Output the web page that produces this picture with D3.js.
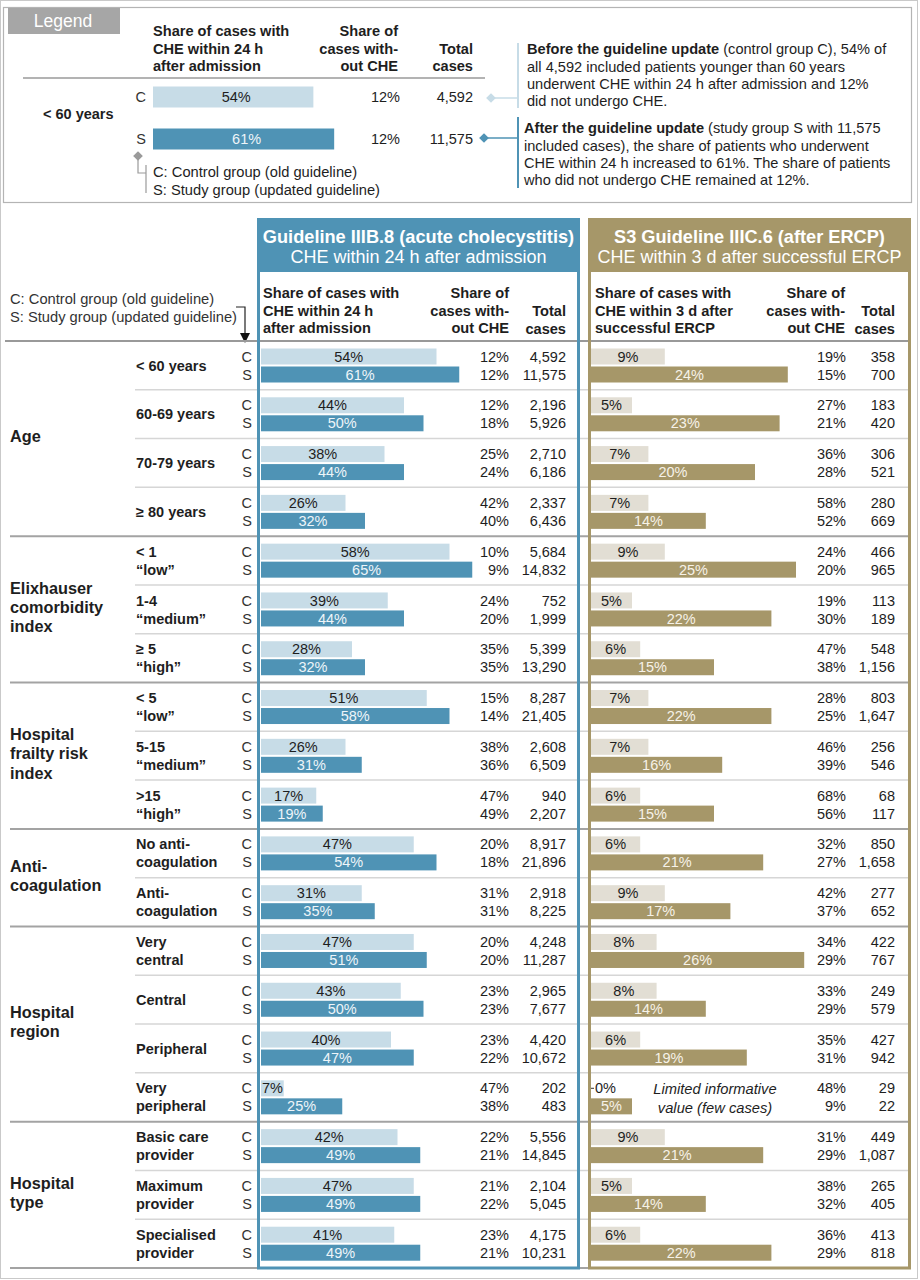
<!DOCTYPE html>
<html>
<head>
<meta charset="utf-8">
<script src="https://cdn.jsdelivr.net/npm/d3@7"></script>
<style>
  body { margin: 0; background: #fff; }
  svg { display: block; }
</style>
</head>
<body>
<script>
// ---- data ----
const groupNames = [
    ['Age'],
    ['Elixhauser', 'comorbidity', 'index'],
    ['Hospital', 'frailty risk', 'index'],
    ['Anti-', 'coagulation'],
    ['Hospital', 'region'],
    ['Hospital', 'type']
];
const groupSizes = [4, 3, 3, 2, 4, 3];
const subgroups = [
    ['< 60 years'], ['60-69 years'], ['70-79 years'], ['≥ 80 years'],
    ['< 1', '“low”'], ['1-4', '“medium”'], ['≥ 5', '“high”'],
    ['< 5', '“low”'], ['5-15', '“medium”'], ['>15', '“high”'],
    ['No anti-', 'coagulation'], ['Anti-', 'coagulation'],
    ['Very', 'central'], ['Central'], ['Peripheral'], ['Very', 'peripheral'],
    ['Basic care', 'provider'], ['Maximum', 'provider'], ['Specialised', 'provider']
];

// Guideline IIIB.8 - CHE within 24 h after admission
const che24C = [54, 44, 38, 26, 58, 39, 28, 51, 26, 17, 47, 31, 47, 43, 40, 7, 42, 47, 41];
const che24S = [61, 50, 44, 32, 65, 44, 32, 58, 31, 19, 54, 35, 51, 50, 47, 25, 49, 49, 49];
const noChe24C = [12, 12, 25, 42, 10, 24, 35, 15, 38, 47, 20, 31, 20, 23, 23, 47, 22, 21, 23];
const noChe24S = [12, 18, 24, 40, 9, 20, 35, 14, 36, 49, 18, 31, 20, 23, 22, 38, 21, 22, 21];
const total24C = [4592, 2196, 2710, 2337, 5684, 752, 5399, 8287, 2608, 940, 8917, 2918, 4248, 2965, 4420, 202, 5556, 2104, 4175];
const total24S = [11575, 5926, 6186, 6436, 14832, 1999, 13290, 21405, 6509, 2207, 21896, 8225, 11287, 7677, 10672, 483, 14845, 5045, 10231];

// S3 Guideline IIIC.6 - CHE within 3 d after successful ERCP
const che3C = [9, 5, 7, 7, 9, 5, 6, 7, 7, 6, 6, 9, 8, 8, 6, 0, 9, 5, 6];
const che3S = [24, 23, 20, 14, 25, 22, 15, 22, 16, 15, 21, 17, 26, 14, 19, 5, 21, 14, 22];
const noChe3C = [19, 27, 36, 58, 24, 19, 47, 28, 46, 68, 32, 42, 34, 33, 35, 48, 31, 38, 36];
const noChe3S = [15, 21, 28, 52, 20, 30, 38, 25, 39, 56, 27, 37, 29, 29, 31, 9, 29, 32, 29];
const total3C = [358, 183, 306, 280, 466, 113, 548, 803, 256, 68, 850, 277, 422, 249, 427, 29, 449, 265, 413];
const total3S = [700, 420, 521, 669, 965, 189, 1156, 1647, 546, 117, 1658, 652, 767, 579, 942, 22, 1087, 405, 818];

const limitedRow = 15;   // "Very peripheral" in the ERCP panel

// ---- drawing ----
const W = 920, H = 1280;
const font = "'Liberation Sans', Arial, sans-serif";
const blue = '#4f93b5', blueLight = '#c7dce7';
const gold = '#a69769', goldLight = '#e2ded4';
const ink = '#1e1e1e';
const fs = 14.5;          // body text
const fsHead = 14.6;      // column headers
const fmtN = d3.format(',');
const pct = d => d + '%';

const svg = d3.select('body').append('svg')
    .attr('width', W)
    .attr('height', H)
    .attr('font-family', font)
    .attr('fill', ink);

// outer frames
svg.append('rect').attr('x', 0.5).attr('y', 0.5).attr('width', 917).attr('height', 1278)
    .attr('fill', 'none').attr('stroke', '#c9c9c9');
svg.append('rect').attr('x', 3.5).attr('y', 7.5).attr('width', 908).attr('height', 195)
    .attr('fill', 'none').attr('stroke', '#b4b4b4').attr('stroke-width', 1.2);

function lines(g, arr, x, y0, step, opts = {}) {
    arr.forEach((t, i) => {
        g.append('text')
            .attr('x', x)
            .attr('y', y0 + i * step)
            .attr('dy', '0.35em')
            .attr('text-anchor', opts.anchor || 'start')
            .attr('font-size', opts.size || fs)
            .attr('font-weight', opts.weight || 'normal')
            .attr('font-style', opts.style || 'normal')
            .attr('fill', opts.fill || ink)
            .text(t);
    });
}

// ---- legend ----
const leg = svg.append('g');
leg.append('rect').attr('x', 8).attr('y', 8).attr('width', 112).attr('height', 26).attr('fill', '#a6a6a6');
leg.append('text').attr('x', 63).attr('y', 21).attr('dy', '0.35em').attr('text-anchor', 'middle')
    .attr('font-size', 17.5).attr('fill', '#fff').text('Legend');

lines(leg, ['Share of cases with', 'CHE within 24 h', 'after admission'], 153, 31, 17.5, { weight: 'bold', size: fsHead });
lines(leg, ['Share of', 'cases with-', 'out CHE'], 398, 31, 17.5, { weight: 'bold', size: fsHead, anchor: 'end' });
lines(leg, ['Total', 'cases'], 473, 48.5, 17.5, { weight: 'bold', size: fsHead, anchor: 'end' });
leg.append('line').attr('x1', 23).attr('x2', 485).attr('y1', 78).attr('y2', 78)
    .attr('stroke', '#9a9a9a').attr('stroke-width', 1.5);

const xLeg = d3.scaleLinear().domain([0, 100]).range([153, 450]);
const legRows = [
    { key: 'C', y: 97, v: che24C[0], n: noChe24C[0], t: total24C[0], fill: blueLight, tc: ink },
    { key: 'S', y: 139, v: che24S[0], n: noChe24S[0], t: total24S[0], fill: blue, tc: '#eef5f9' }
];
lines(leg, [subgroups[0][0]], 43, 114, 0, { weight: 'bold' });
legRows.forEach(r => {
    leg.append('text').attr('x', 146).attr('y', r.y).attr('dy', '0.35em').attr('text-anchor', 'end')
        .attr('font-size', fs).attr('fill', '#333').text(r.key);
    leg.append('rect').attr('x', xLeg(0)).attr('y', r.y - 10.5)
        .attr('width', xLeg(r.v) - xLeg(0)).attr('height', 21).attr('fill', r.fill);
    leg.append('text').attr('x', (xLeg(0) + xLeg(r.v)) / 2 + 3).attr('y', r.y).attr('dy', '0.35em')
        .attr('text-anchor', 'middle').attr('font-size', fs).attr('fill', r.tc).text(pct(r.v));
    leg.append('text').attr('x', 400).attr('y', r.y).attr('dy', '0.35em').attr('text-anchor', 'end')
        .attr('font-size', fs).text(pct(r.n));
    leg.append('text').attr('x', 473).attr('y', r.y).attr('dy', '0.35em').attr('text-anchor', 'end')
        .attr('font-size', fs).text(fmtN(r.t));
});

const diamond = d3.symbol().type(d3.symbolDiamond2).size(60);
// C / S key bracket
leg.append('path').attr('d', diamond).attr('transform', 'translate(138,156)').attr('fill', '#9a9a9a');
leg.append('path').attr('d', 'M138,156V173H146').attr('fill', 'none').attr('stroke', '#9a9a9a').attr('stroke-width', 1.2);
leg.append('line').attr('x1', 146).attr('x2', 146).attr('y1', 165).attr('y2', 193)
    .attr('stroke', '#9a9a9a').attr('stroke-width', 1.2);
lines(leg, ['C: Control group (old guideline)', 'S: Study group (updated guideline)'], 153, 172, 17.5, { size: 14.7 });

// explanations
leg.append('path').attr('d', diamond).attr('transform', 'translate(491,98)').attr('fill', blueLight);
leg.append('line').attr('x1', 491).attr('x2', 518).attr('y1', 98).attr('y2', 98).attr('stroke', blueLight).attr('stroke-width', 1.5);
leg.append('line').attr('x1', 518).attr('x2', 518).attr('y1', 43).attr('y2', 108).attr('stroke', blueLight).attr('stroke-width', 2);
leg.append('path').attr('d', diamond).attr('transform', 'translate(484,138)').attr('fill', blue);
leg.append('line').attr('x1', 484).attr('x2', 518).attr('y1', 138).attr('y2', 138).attr('stroke', blue).attr('stroke-width', 1.5);
leg.append('line').attr('x1', 518).attr('x2', 518).attr('y1', 117).attr('y2', 188).attr('stroke', blue).attr('stroke-width', 2);

function para(x, y0, rows) {
    rows.forEach((parts, i) => {
        const t = leg.append('text').attr('x', x).attr('y', y0 + i * 17.4).attr('dy', '0.35em').attr('font-size', 14.6);
        parts.forEach(p => t.append('tspan').attr('font-weight', p[1] ? 'bold' : 'normal').text(p[0]));
    });
}
para(527, 49, [
    [['Before the guideline update', 1], [' (control group C), 54% of', 0]],
    [['all 4,592 included patients younger than 60 years', 0]],
    [['underwent CHE within 24 h after admission and 12%', 0]],
    [['did not undergo CHE.', 0]]
]);
para(524, 128, [
    [['After the guideline update', 1], [' (study group S with 11,575', 0]],
    [['included cases), the share of patients who underwent', 0]],
    [['CHE within 24 h increased to 61%. The share of patients', 0]],
    [['who did not undergo CHE remained at 12%.', 0]]
]);

// ---- main table ----
const main = svg.append('g');
const rowTop = d3.scaleLinear().domain([0, subgroups.length]).range([341, 1268]);
const xL = d3.scaleLinear().domain([0, 100]).range([261, 586]);
const xR = d3.scaleLinear().domain([0, 100]).range([591, 1411]);

// panel headers
const panels = [
    { x0: 257, x1: 580, color: blue, title: 'Guideline IIIB.8 (acute cholecystitis)', sub: 'CHE within 24 h after admission',
      head: ['Share of cases with', 'CHE within 24 h', 'after admission'], hx: 263, nx: 509, tx: 566 },
    { x0: 588, x1: 911, color: gold, title: 'S3 Guideline IIIC.6 (after ERCP)', sub: 'CHE within 3 d after successful ERCP',
      head: ['Share of cases with', 'CHE within 3 d after', 'successful ERCP'], hx: 595, nx: 845, tx: 895 }
];
panels.forEach(p => {
    main.append('rect').attr('x', p.x0).attr('y', 218).attr('width', p.x1 - p.x0).attr('height', 54).attr('fill', p.color);
    const cx = (p.x0 + p.x1) / 2;
    main.append('text').attr('x', cx).attr('y', 237).attr('dy', '0.35em').attr('text-anchor', 'middle')
        .attr('font-size', 18.2).attr('font-weight', 'bold').attr('fill', '#fff').text(p.title);
    main.append('text').attr('x', cx).attr('y', 257).attr('dy', '0.35em').attr('text-anchor', 'middle')
        .attr('font-size', 18).attr('fill', '#fff').text(p.sub);
    lines(main, p.head, p.hx, 293, 17.5, { weight: 'bold', size: fsHead });
    lines(main, ['Share of', 'cases with-', 'out CHE'], p.nx, 293, 17.5, { weight: 'bold', size: fsHead, anchor: 'end' });
    lines(main, ['Total', 'cases'], p.tx, 311, 17.5, { weight: 'bold', size: fsHead, anchor: 'end' });
});

// C / S key
lines(main, ['C: Control group (old guideline)', 'S: Study group (updated guideline)'], 10, 299, 17.5, { size: 14.7, fill: '#333' });
main.append('path').attr('d', 'M236,307H245V334').attr('fill', 'none').attr('stroke', '#222').attr('stroke-width', 1.2);
main.append('path').attr('d', 'M240,333L250,333L245,343Z').attr('fill', '#111');

// separators
main.append('line').attr('x1', 5).attr('x2', 908).attr('y1', 341).attr('y2', 341).attr('stroke', '#999').attr('stroke-width', 2);
const groupStarts = d3.cumsum([0, ...groupSizes]);
d3.range(1, subgroups.length + 1).forEach(i => {
    const isGroup = groupStarts.includes(i);
    main.append('line')
        .attr('x1', isGroup ? 10 : 135).attr('x2', 908)
        .attr('y1', rowTop(i)).attr('y2', rowTop(i))
        .attr('stroke', isGroup ? '#a3a3a3' : '#d6d6d6')
        .attr('stroke-width', isGroup ? 2 : 1.5);
});

// group labels
groupNames.forEach((names, gi) => {
    const cy = (rowTop(groupStarts[gi]) + rowTop(groupStarts[gi + 1])) / 2 - 2;
    lines(main, names, 10, cy - (names.length - 1) * 9.6, 19.2, { weight: 'bold', size: 16.3 });
});

function barCell(x, v, y, fill, tc) {
    const w = x(v) - x(0);
    if (w > 0) {
        main.append('rect').attr('x', x(0)).attr('y', y - 8).attr('width', w).attr('height', 16).attr('fill', fill);
    } else {
        main.append('rect').attr('x', x(0)).attr('y', y - 0.6).attr('width', 3).attr('height', 1.2).attr('fill', '#555');
    }
    const small = w < 20;
    main.append('text')
        .attr('x', small ? x(0) + 4 : x(0) + w / 2)
        .attr('y', y).attr('dy', '0.35em')
        .attr('text-anchor', small ? 'start' : 'middle')
        .attr('font-size', fs)
        .attr('fill', small ? ink : tc)
        .text(pct(v));
}

subgroups.forEach((names, i) => {
    const top = rowTop(i);
    const yC = top + 15.5, yS = top + 33.5;
    if (names.length === 1) lines(main, names, 136, top + 24.5, 0, { weight: 'bold' });
    else lines(main, names, 136, yC, 18, { weight: 'bold' });
    lines(main, ['C', 'S'], 252, yC, 18, { anchor: 'end', fill: '#333' });

    barCell(xL, che24C[i], yC, blueLight, ink);
    barCell(xL, che24S[i], yS, blue, '#eef5f9');
    lines(main, [pct(noChe24C[i]), pct(noChe24S[i])], 509, yC, 18, { anchor: 'end' });
    lines(main, [fmtN(total24C[i]), fmtN(total24S[i])], 566, yC, 18, { anchor: 'end' });

    barCell(xR, che3C[i], yC, goldLight, ink);
    barCell(xR, che3S[i], yS, gold, '#f6f2e8');
    lines(main, [pct(noChe3C[i]), pct(noChe3S[i])], 846, yC, 18, { anchor: 'end' });
    lines(main, [fmtN(total3C[i]), fmtN(total3S[i])], 895, yC, 18, { anchor: 'end' });

    if (i === limitedRow) {
        lines(main, ['Limited informative', 'value (few cases)'], 715, yC + 1, 18.5,
            { anchor: 'middle', style: 'italic', size: 14.7 });
    }
});

// panel borders on top
panels.forEach(p => {
    main.append('rect').attr('x', p.x0 + 1.5).attr('y', 219.5)
        .attr('width', p.x1 - p.x0 - 3).attr('height', 1268 - 219.5)
        .attr('fill', 'none').attr('stroke', p.color).attr('stroke-width', 3);
});
</script>
</body>
</html>
